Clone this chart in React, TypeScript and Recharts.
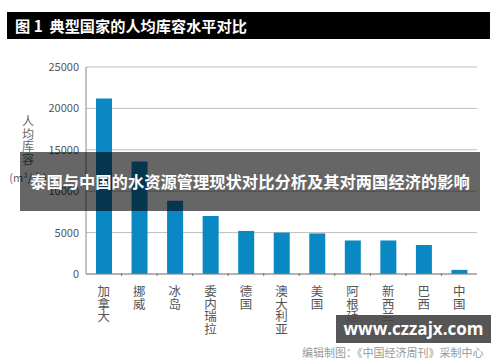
import React from 'react';
import { BarChart, Bar, XAxis, YAxis, CartesianGrid } from 'recharts';

const countries = ['加拿大', '挪威', '冰岛', '委内瑞拉', '德国', '澳大利亚', '美国', '阿根廷', '新西兰', '巴西', '中国'];
const storagePerCapita = [21200, 13600, 8850, 7000, 5200, 5000, 4900, 4050, 4050, 3500, 500];
const yTicks = [0, 5000, 10000, 15000, 20000, 25000];

const data = countries.map((name, i) => ({ name, value: storagePerCapita[i] }));

const FONT = '"Noto Sans CJK SC", "Noto Sans", sans-serif';
const CHART_W = 500;
const CHART_H = 362;
const MARGIN = { top: 67, right: 23, bottom: 0, left: 26 };
const Y_AXIS_W = 60;
const BAND = (CHART_W - MARGIN.left - MARGIN.right - Y_AXIS_W) / countries.length;

// vertical stacked label plus a small tick at the left band boundary
const VerticalTick = (props: any) => {
  const { x, y, payload, index } = props;
  const chars = String(payload.value).split('');
  return (
    <g>
      {index > 0 && (
        <line x1={x - BAND / 2} x2={x - BAND / 2} y1={y - 3} y2={y} stroke="#777" strokeWidth={1} />
      )}
      {chars.map((c, i) => (
        <text key={i} x={x} y={y + 20 + i * 12.5} textAnchor="middle" fontSize={12.5} fill="#555" fontFamily={FONT}>
          {c}
        </text>
      ))}
    </g>
  );
};

const App: React.FC = () => {
  return (
    <div style={{ position: 'absolute', left: 0, top: 0, width: CHART_W, height: CHART_H, background: '#fff', overflow: 'hidden', fontFamily: FONT }}>
      <BarChart width={CHART_W} height={CHART_H} data={data} margin={MARGIN}>
        <CartesianGrid vertical={false} stroke="#bdbdbd" strokeWidth={1} />
        <XAxis
          dataKey="name"
          interval={0}
          height={88}
          stroke="#888"
          tickLine={false}
          tickSize={0}
          tick={<VerticalTick />}
        />
        <YAxis
          domain={[0, 25000]}
          ticks={yTicks}
          width={Y_AXIS_W}
          stroke="#888"
          tickLine={false}
          tickSize={5}
          tick={{ fill: '#555', fontSize: 11, fontFamily: FONT }}
        />
        <Bar dataKey="value" fill="#0a88c4" barSize={16} isAnimationActive={false} />
      </BarChart>

      {/* title bar */}
      <div style={{ position: 'absolute', left: 7, top: 12, width: 483, height: 27, background: '#000', color: '#fff', fontWeight: 700, fontSize: 15.2, lineHeight: '27px', paddingLeft: 8, boxSizing: 'border-box', whiteSpace: 'pre' }}>
        {'图 1  典型国家的人均库容水平对比'}
      </div>

      {/* y axis label */}
      <div style={{ position: 'absolute', left: 22, top: 115, width: 12, fontSize: 12, lineHeight: '12.5px', color: '#666', textAlign: 'center' }}>
        人<br />均<br />库<br />容
      </div>
      <div style={{ position: 'absolute', left: 4, top: 170, width: 48, fontSize: 11, lineHeight: '14px', color: '#666', textAlign: 'center' }}>
        (m³/人)
      </div>

      {/* banner */}
      <div style={{ position: 'absolute', left: 20, top: 152, width: 460, height: 59, background: 'rgba(0,0,0,0.6)', color: '#fff', fontWeight: 700, fontSize: 16.3, lineHeight: '59px', textAlign: 'center', whiteSpace: 'nowrap' }}>
        泰国与中国的水资源管理现状对比分析及其对两国经济的影响
      </div>

      {/* source */}
      <div style={{ position: 'absolute', left: 302, top: 345, fontSize: 11, lineHeight: '15px', color: '#999', whiteSpace: 'nowrap' }}>
        编辑制图：《中国经济周刊》采制中心
      </div>

      {/* watermark */}
      <div style={{ position: 'absolute', left: 336, top: 315, width: 155, height: 28, background: 'rgba(72,72,72,0.92)', color: '#fff', fontWeight: 700, fontSize: 17, lineHeight: '28px', textAlign: 'center', fontFamily: '"Open Sans", "Noto Sans", sans-serif' }}>
        www.czzajx.com
      </div>
    </div>
  );
};

export default App;
